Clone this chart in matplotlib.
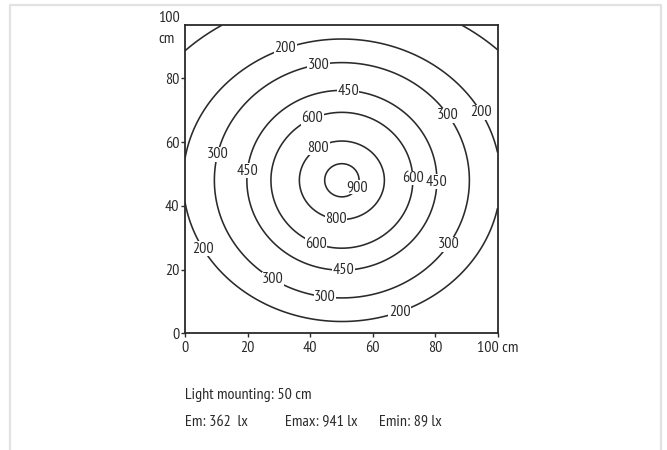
import numpy as np
import matplotlib.pyplot as plt
from matplotlib.lines import Line2D

# illuminance rings (lx), as ellipses around the lamp
levels = [100, 200, 300, 450, 600, 800, 900]
half_width = [70.2, 50.8, 40.8, 30.4, 22.7, 13.6, 5.5]
half_height = [58.1, 44.3, 36.9, 28.2, 21.3, 12.3, 5.2]
centre_x, centre_y = 50.2, 48.0

x_ticks = [0, 20, 40, 60, 80, 100]
x_labels = ["0", "20", "40", "60", "80", "100 cm"]
y_ticks = [0, 20, 40, 60, 80]

mounting_cm = 50
em, emax, emin = 362, 941, 89

# where the labels sit on each ring (the 100 ring has none)
label_pos = {
    200: [(32, 89.8), (95, 69.4), (5.9, 26.6), (68.8, 6.3)],
    300: [(42.6, 84.7), (84.2, 68.4), (10.2, 56.2), (28.3, 17.2), (44.8, 11.2), (84.8, 27.7)],
    450: [(52.2, 76.6), (18.6, 51.2), (82.1, 47.5), (50.7, 19.8)],
    600: [(40.6, 67.8), (72.5, 48.7), (42.1, 28.4)],
    800: [(42.6, 58.4), (48.5, 36.4)],
    900: [(54.9, 46.0)],
}

plt.rcParams['font.family'] = ['PT Sans Narrow', 'DejaVu Sans']
ink = '#2a2a2a'
fs = 11.5

fig = plt.figure(figsize=(6.67, 4.5), dpi=100)
W, H = 667, 450

# light grey frame round the picture (open at the bottom)
fig.add_artist(Line2D([10 / W, 10 / W, 661 / W, 661 / W], [0, 1 - 5 / H, 1 - 5 / H, 0],
                      transform=fig.transFigure, color='#e2e2e2', lw=1.6))

ax = fig.add_axes([185 / W, 1 - 333.3 / H, 312.5 / W, (333.3 - 25) / H])
ax.set_xlim(0, 100)
ax.set_ylim(0, 96.7)

xs = np.linspace(0, 100, 801)
ys = np.linspace(0, 96.7, 801)
X, Y = np.meshgrid(xs, ys)

for lev, a, b in zip(levels, half_width, half_height):
    q = np.hypot((X - centre_x) / a, (Y - centre_y) / b)
    if lev == 100:
        # only shows up in the two top corners
        q = np.ma.masked_where(Y < centre_y, q)
    cs = ax.contour(X, Y, q, levels=[1.0], colors=ink, linewidths=1.15)
    if lev in label_pos:
        txts = ax.clabel(cs, fmt={1.0: str(lev)}, manual=label_pos[lev],
                         inline=False, fontsize=fs, colors=ink)
        for t in txts:
            t.set_rotation(0)
            t.set_bbox(dict(fc='white', ec='none', pad=0.2))

ax.set_xticks(x_ticks)
ax.set_xticklabels(x_labels)
ax.set_yticks(y_ticks)
ax.tick_params(direction='out', length=3, width=1, colors=ink, labelsize=fs)
ax.tick_params(axis='x', pad=2.5)
ax.tick_params(axis='y', pad=1)
for s in ax.spines.values():
    s.set_color(ink)
    s.set_linewidth(1.3)

fig.text(180 / W, 1 - 18.3 / H, "100", ha='right', va='center', fontsize=fs, color=ink)
fig.text(158 / W, 1 - 39 / H, "cm", ha='left', va='center', fontsize=fs, color=ink)

fig.text(185 / W, 1 - 395 / H, f"Light mounting: {mounting_cm} cm",
         va='center', fontsize=fs, color=ink)
fig.text(185 / W, 1 - 421.7 / H, f"Em: {em}  lx", va='center', fontsize=fs, color=ink)
fig.text(285 / W, 1 - 421.7 / H, f"Emax: {emax} lx", va='center', fontsize=fs, color=ink)
fig.text(379.3 / W, 1 - 421.7 / H, f"Emin: {emin} lx", va='center', fontsize=fs, color=ink)

fig.savefig("out.png", dpi=100)
